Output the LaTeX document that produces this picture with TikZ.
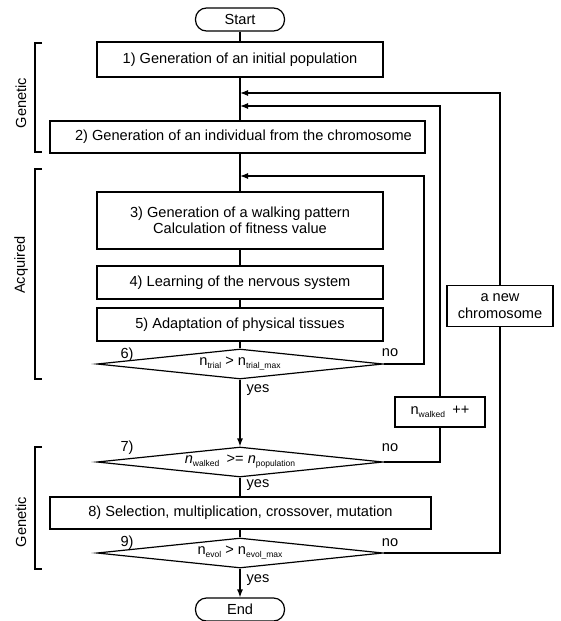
\documentclass[tikz,border=0pt]{standalone}
\usepackage{fontspec}
\setmainfont{Liberation Sans}
\usetikzlibrary{shapes.geometric,arrows.meta}
\newcommand{\sbs}[1]{\raisebox{-3pt}{\fontsize{8.5}{8.5}\selectfont #1}}
\tikzset{
  every node/.style={font=\fontsize{14.6}{16.5}\selectfont, inner sep=0pt},
  ln/.style={line width=1.2pt},
  arr/.style={line width=1.2pt, -{Latex[length=8pt,width=6pt]}},
  box/.style={draw, line width=1.2pt, align=center},
  term/.style={draw, line width=1.2pt, rounded corners=11pt, minimum width=89pt, minimum height=23pt},
  dec/.style={draw, line width=1.2pt, diamond, aspect=9.5, minimum width=286pt, minimum height=30pt},
}
\begin{document}
\begin{tikzpicture}[x=1pt,y=-1pt]
\useasboundingbox (0,0) rectangle (560,621);
% main column
\node[term] (start) at (240,19.5) {Start};
\node[box, minimum width=286pt, minimum height=35pt] (b1) at (240,59.5) {1) Generation of an initial population};
\node[box, minimum width=375pt, minimum height=32pt] (b2) at (237.5,137) {\hspace*{12pt}2) Generation of an individual from the chromosome};
\node[box, minimum width=286pt, minimum height=57pt] (b3) at (240,220.5) {3) Generation of a walking pattern\\Calculation of fitness value};
\node[box, minimum width=286pt, minimum height=33pt] (b4) at (240,282.5) {4) Learning of the nervous system};
\node[box, minimum width=286pt, minimum height=33pt] (b5) at (240,324.5) {5) Adaptation of physical tissues};
\node[dec] (d6) at (240,364) {n\sbs{trial} > n\sbs{trial\_max}};
\node[dec] (d7) at (240,462) {\textit{n}\sbs{walked}\enspace >= \textit{n}\sbs{population}};
\node[box, minimum width=381pt, minimum height=32pt] (b8) at (240.5,513) {8) Selection, multiplication, crossover, mutation};
\node[dec] (d9) at (240,553) {n\sbs{evol} > n\sbs{evol\_max}};
\node[term] (end) at (240,609.5) {End};
% side boxes
\node[box, minimum width=106pt, minimum height=41pt] (chrom) at (500,306) {a new\\chromosome};
\node[box, minimum width=90pt, minimum height=30pt] (nw) at (440,412) {n\sbs{walked}\enspace ++};
% junctions on the main line
\coordinate (j1) at (240,93);
\coordinate (j2) at (240,106);
\coordinate (j3) at (240,176);
% main flow
\draw[ln] (start) -- (b1);
\draw[ln] (b1.south) -- (b1.south |- b2.north);
\draw[ln] (b3.north |- b2.south) -- (b3.north);
\draw[ln] (b3) -- (b4);
\draw[ln] (b4) -- (b5);
\draw[ln] (b5) -- (d6);
\draw[arr] (d6) -- (d7);
\draw[ln] (d7.south) -- (d7.south |- b8.north);
\draw[ln] (d9.north |- b8.south) -- (d9.north);
\draw[arr] (d9) -- (end);
% loops
\draw[arr] (d6.east) -- (424,364) -- (424,176) -- (j3);
\draw[ln] (d7.east) -| (nw.south);
\draw[arr] (nw.north) |- (j2);
\draw[ln] (d9.east) -| (chrom.south);
\draw[arr] (chrom.north) |- (j1);
% labels
\node (l6) at (127,355) {6)};
\node (l7) at (127,448) {7)};
\node (l9) at (127,543) {9)};
\node (n6) at (390,353) {no};
\node (n7) at (390,448) {no};
\node (n9) at (390,543) {no};
\node (y6) at (258,390) {yes};
\node (y7) at (258,485) {yes};
\node (y9) at (258,580) {yes};
% brackets
\draw[ln] (42,43) -- (35,43) -- (35,152) -- (42,152);
\draw[ln] (42,169) -- (35,169) -- (35,379) -- (42,379);
\draw[ln] (42,447) -- (35,447) -- (35,569) -- (42,569);
\node[rotate=90] (g1) at (21,103) {Genetic};
\node[rotate=90] (ac) at (21,265) {Acquired};
\node[rotate=90] (g2) at (21,522) {Genetic};
\end{tikzpicture}
\end{document}
